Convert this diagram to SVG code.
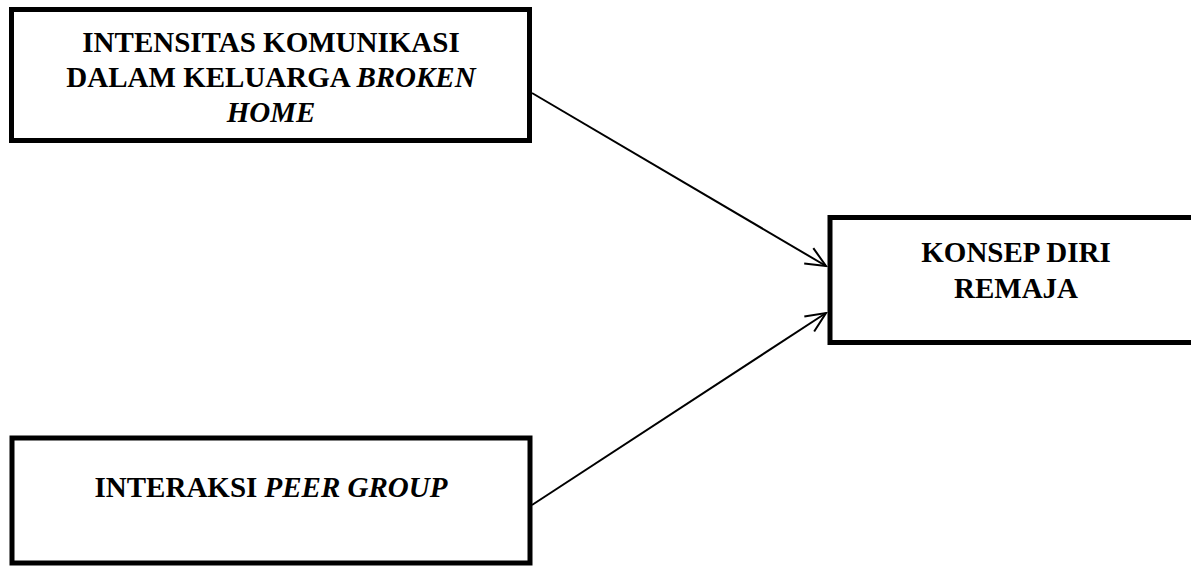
<svg xmlns="http://www.w3.org/2000/svg" width="1191" height="566" viewBox="0 0 1191 566">
<style>
.box{fill:#fff;stroke:#000;stroke-width:5}
.t{font-family:"Liberation Serif","Times New Roman",serif;font-weight:bold;font-size:29px;fill:#000;text-anchor:middle}
.i{font-style:italic}
.c{stroke:#000;stroke-width:2;fill:none}
</style>
<defs>
<marker id="arr" markerWidth="24" markerHeight="24" refX="22" refY="12" orient="auto" markerUnits="userSpaceOnUse">
<polyline points="2,3 22,12 2,21" fill="none" stroke="#000" stroke-width="2"/>
</marker>
</defs>
<rect width="1191" height="566" fill="#fff"/>
<g id="connectors">
<line class="c" x1="532" y1="93" x2="826" y2="266" marker-end="url(#arr)"/>
<line class="c" x1="532" y1="505" x2="826" y2="313" marker-end="url(#arr)"/>
</g>
<g id="node-intensitas">
<rect class="box" x="11.5" y="9.5" width="518" height="131"/>
<text class="t" x="271" y="52">INTENSITAS KOMUNIKASI</text>
<text class="t" x="271" y="87">DALAM KELUARGA <tspan class="i">BROKEN</tspan></text>
<text class="t" x="271" y="122"><tspan class="i">HOME</tspan></text>
</g>
<g id="node-interaksi">
<rect class="box" x="12" y="438" width="518" height="125"/>
<text class="t" x="271" y="497">INTERAKSI <tspan class="i">PEER GROUP</tspan></text>
</g>
<g id="node-konsep">
<rect class="box" x="830" y="217.5" width="370" height="125"/>
<text class="t" x="1016" y="262">KONSEP DIRI</text>
<text class="t" x="1016" y="298">REMAJA</text>
</g>
</svg>
